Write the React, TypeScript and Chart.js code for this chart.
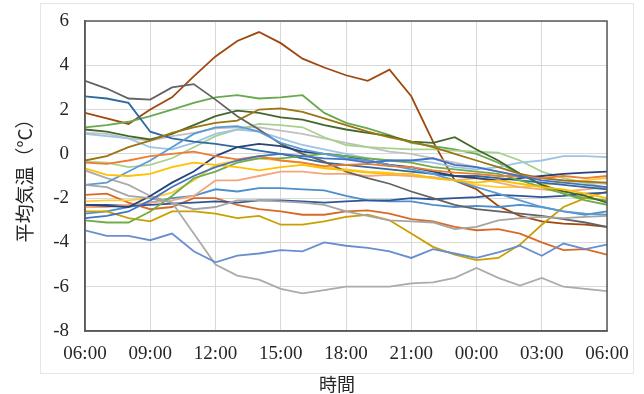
import React, { useEffect, useRef } from 'react';
import { Chart, registerables } from 'chart.js';

Chart.register(...registerables);

// hours elapsed since 06:00
const hours = [0, 1, 2, 3, 4, 5, 6, 7, 8, 9, 10, 11, 12, 13, 14, 15, 16, 17, 18, 19, 20, 21, 22, 23, 24];
const tickLabels = ['06:00', '09:00', '12:00', '15:00', '18:00', '21:00', '00:00', '03:00', '06:00'];

const brown = [1.85, 1.6, 1.35, 2.0, 2.55, 3.5, 4.4, 5.1, 5.5, 5.0, 4.3, 3.9, 3.55, 3.3, 3.8, 2.6, 0.55, -1.2, -1.6, -2.35, -2.8, -3.05, -3.15, -3.2, -3.3];
const darkGray = [3.3, 2.95, 2.5, 2.45, 3.0, 3.15, 2.45, 1.7, 1.1, 0.45, 0.0, -0.35, -0.8, -1.1, -1.35, -1.7, -2.0, -2.3, -2.5, -2.6, -2.7, -2.8, -2.95, -3.1, -3.3];
const steelBlue = [2.6, 2.5, 2.3, 1.0, 0.7, 0.55, 0.45, 0.3, 0.15, 0.0, -0.2, -0.4, -0.5, -0.6, -0.7, -0.8, -0.9, -1.0, -1.0, -1.1, -1.2, -1.3, -1.4, -1.5, -1.6];
const green = [1.2, 1.3, 1.45, 1.7, 2.0, 2.3, 2.55, 2.65, 2.5, 2.55, 2.65, 1.85, 1.4, 1.15, 0.85, 0.5, 0.35, 0.2, 0.0, -0.4, -0.9, -1.4, -1.8, -2.0, -2.1];
const darkGold = [-0.3, -0.1, 0.3, 0.6, 0.95, 1.2, 1.4, 1.5, 2.0, 2.05, 1.9, 1.6, 1.3, 1.0, 0.75, 0.55, 0.3, 0.0, -0.3, -0.6, -0.9, -1.1, -1.2, -1.25, -1.3];
const darkGreen = [1.1, 1.0, 0.8, 0.65, 0.9, 1.3, 1.7, 1.95, 1.85, 1.65, 1.55, 1.3, 1.1, 0.95, 0.8, 0.55, 0.5, 0.75, 0.2, -0.3, -0.9, -1.4, -1.7, -1.9, -2.2];
const grayDrop = [-0.75, -1.1, -1.4, -1.9, -2.2, -3.6, -5.0, -5.5, -5.68, -6.1, -6.3, -6.15, -6.0, -6.0, -6.0, -5.85, -5.8, -5.6, -5.15, -5.6, -5.95, -5.6, -6.0, -6.1, -6.2];
const periwinkle = [-3.45, -3.7, -3.7, -3.9, -3.6, -4.4, -4.9, -4.6, -4.5, -4.35, -4.4, -4.0, -4.15, -4.25, -4.4, -4.7, -4.3, -4.5, -4.7, -4.45, -4.15, -4.6, -4.05, -4.3, -4.1];
const mustard = [-2.6, -2.6, -2.9, -3.05, -2.6, -2.6, -2.7, -2.9, -2.8, -3.2, -3.2, -3.05, -2.85, -2.75, -3.0, -3.6, -4.2, -4.55, -4.8, -4.7, -4.1, -3.2, -2.4, -2.0, -1.7];
const yellowA = [-0.65, -0.95, -1.0, -0.9, -0.6, -0.4, -0.5, -0.6, -0.75, -0.6, -0.5, -0.65, -0.75, -0.85, -0.9, -0.9, -1.1, -1.2, -1.3, -1.2, -1.35, -1.5, -1.6, -1.8, -2.0];
const yellowB = [-2.15, -2.1, -2.1, -2.0, -1.75, -1.2, -0.5, -0.3, -0.2, -0.3, -0.4, -0.6, -0.7, -0.8, -0.85, -1.0, -1.1, -1.2, -1.4, -1.5, -1.5, -1.4, -1.3, -1.2, -1.1];
const orangeMid = [-1.85, -1.8, -2.2, -2.5, -2.4, -2.0, -2.0, -2.3, -2.5, -2.6, -2.75, -2.75, -2.6, -2.55, -2.7, -2.95, -3.05, -3.3, -3.45, -3.4, -3.6, -4.0, -4.35, -4.3, -4.55];
const lightOrange = [-2.4, -2.4, -2.3, -2.2, -2.1, -1.9, -1.2, -1.2, -1.0, -0.8, -0.8, -0.9, -0.9, -1.0, -0.95, -1.0, -1.05, -1.2, -1.1, -1.3, -1.5, -1.6, -1.7, -1.6, -1.5];
const orangeUp = [-0.4, -0.45, -0.3, -0.1, 0.0, 0.1, -0.1, -0.25, -0.1, -0.3, -0.4, -0.55, -0.5, -0.45, -0.55, -0.6, -0.75, -0.85, -0.9, -1.0, -1.0, -1.1, -1.0, -1.1, -1.0];
const darkBlueRise = [-2.3, -2.35, -2.4, -1.9, -1.3, -0.8, -0.1, 0.3, 0.45, 0.35, 0.1, 0.0, -0.1, -0.3, -0.5, -0.6, -0.8, -1.0, -1.1, -1.2, -1.1, -1.0, -0.9, -0.85, -0.8];
const blueRise = [-2.9, -2.8, -2.6, -2.1, -1.5, -1.0, -0.6, -0.3, -0.1, 0.0, -0.1, -0.2, -0.25, -0.4, -0.3, -0.3, -0.2, -0.5, -0.6, -0.8, -1.0, -1.2, -1.3, -1.4, -1.5];
const green2 = [-3.0, -3.1, -3.1, -2.6, -1.9, -1.1, -0.8, -0.4, -0.2, -0.2, -0.1, 0.0, -0.1, -0.2, -0.3, -0.4, -0.6, -0.7, -0.8, -0.9, -1.2, -1.5, -1.8, -2.1, -2.3];
const lightGreen = [-0.35, -0.4, -0.6, -0.5, -0.2, 0.3, 0.8, 1.1, 1.35, 1.3, 1.2, 0.75, 0.4, 0.3, 0.25, 0.2, 0.2, 0.15, 0.1, 0.05, -0.3, -0.8, -1.1, -1.3, -1.55];
const lightGray = [0.95, 0.9, 0.7, 0.6, 0.8, 0.95, 1.15, 1.2, 1.2, 1.05, 0.9, 0.7, 0.5, 0.3, 0.1, 0.0, -0.2, -0.4, -0.6, -0.8, -1.0, -1.1, -1.2, -1.3, -1.35];
const paleBlue = [0.9, 0.8, 0.7, 0.3, 0.2, 0.5, 0.9, 1.1, 1.0, 0.7, 0.4, 0.2, 0.0, -0.2, -0.3, -0.3, -0.4, -0.6, -0.7, -0.6, -0.4, -0.3, -0.1, -0.1, -0.15];
const skyBlueA = [-1.4, -1.3, -0.8, -0.3, 0.3, 0.9, 1.2, 1.25, 1.0, 0.5, 0.2, 0.0, -0.2, -0.3, -0.5, -0.7, -0.9, -1.2, -1.5, -1.8, -2.1, -2.4, -2.6, -2.7, -2.75];
const skyBlueB = [-2.7, -2.6, -2.4, -2.2, -2.0, -1.9, -1.6, -1.7, -1.55, -1.55, -1.6, -1.65, -1.9, -2.1, -2.15, -2.15, -2.3, -2.4, -2.35, -2.4, -2.3, -2.4, -2.6, -2.75, -2.6];
const blueFlat = [-2.3, -2.3, -2.35, -2.3, -2.25, -2.2, -2.15, -2.2, -2.1, -2.1, -2.15, -2.2, -2.15, -2.1, -2.1, -2.0, -2.05, -2.0, -1.95, -1.85, -1.9, -1.95, -1.9, -1.8, -1.75];
const gray2 = [-1.4, -1.5, -1.9, -2.0, -2.2, -2.5, -2.4, -2.1, -2.1, -2.15, -2.2, -2.3, -2.6, -2.8, -3.0, -3.05, -3.1, -3.4, -3.3, -3.0, -2.9, -2.85, -2.9, -2.85, -2.8];

const series = [
  { data: blueRise, color: '#4472C4' },
  { data: orangeUp, color: '#ED7D31' },
  { data: gray2, color: '#A5A5A5' },
  { data: yellowA, color: '#FFC000' },
  { data: skyBlueA, color: '#5B9BD5' },
  { data: green2, color: '#70AD47' },
  { data: darkBlueRise, color: '#264478' },
  { data: darkGray, color: '#636363' },
  { data: darkGold, color: '#9C7410' },
  { data: steelBlue, color: '#2E6A9E' },
  { data: darkGreen, color: '#43682B' },
  { data: periwinkle, color: '#698ED0' },
  { data: lightOrange, color: '#F4A77A' },
  { data: grayDrop, color: '#ABABAB' },
  { data: yellowB, color: '#FFCD33' },
  { data: paleBlue, color: '#9DC3E6' },
  { data: lightGreen, color: '#A9D18E' },
  { data: blueFlat, color: '#2F5597' },
  { data: orangeMid, color: '#D86A28' },
  { data: lightGray, color: '#C0C0C0' },
  { data: mustard, color: '#C9A000' },
  { data: skyBlueB, color: '#4E8FCB' },
  { data: green, color: '#6AA84F' },
  { data: brown, color: '#9E480E' },
];

const serif = '"Liberation Serif", "Times New Roman", serif';
const cjk = '"Noto Sans CJK JP", "Noto Sans CJK SC", sans-serif';

const framePlugin = {
  id: 'frame',
  beforeDraw(chart: any) {
    const ctx = chart.ctx;
    ctx.save();
    ctx.fillStyle = '#ffffff';
    ctx.fillRect(0, 0, chart.width, chart.height);
    ctx.strokeStyle = '#E6E6E6';
    ctx.lineWidth = 1;
    ctx.strokeRect(40.5, 3.5, 593, 370);
    ctx.restore();
  },
  afterDatasetsDraw(chart: any) {
    const { left, top, right, bottom } = chart.chartArea;
    const ctx = chart.ctx;
    ctx.save();
    ctx.strokeStyle = '#595959';
    ctx.lineWidth = 1.5;
    ctx.strokeRect(left, top, right - left, bottom - top);
    ctx.restore();
  },
};

export default function App() {
  const ref = useRef<HTMLCanvasElement | null>(null);

  useEffect(() => {
    if (!ref.current) return;
    const chart = new Chart(ref.current, {
      type: 'line',
      data: {
        datasets: series.map((s, i) => ({
          label: 'S' + (i + 1),
          data: hours.map((h, j) => ({ x: h, y: s.data[j] })),
          borderColor: s.color,
          backgroundColor: s.color,
          borderWidth: 1.8,
          pointRadius: 0,
          tension: 0,
          fill: false,
        })),
      },
      options: {
        animation: false,
        responsive: false,
        devicePixelRatio: 1,
        layout: { padding: { left: 0, right: 37, top: 21, bottom: 0 } },
        plugins: { legend: { display: false }, tooltip: { enabled: false } },
        scales: {
          x: {
            type: 'linear',
            min: 0,
            max: 24,
            ticks: {
              stepSize: 3,
              padding: 12,
              color: '#262626',
              font: { family: serif, size: 19 },
              maxRotation: 0,
              callback: (v: any) => tickLabels[Math.round(Number(v) / 3)] ?? '',
            },
            grid: { color: '#D9D9D9', lineWidth: 1, drawTicks: false },
            border: { display: true, color: '#595959', width: 1.5 },
            title: {
              display: true,
              text: '時間\u3000',
              color: '#262626',
              font: { family: cjk, size: 18, lineHeight: 1 },
              padding: { top: 0, bottom: 1 },
            },
            afterFit: (s: any) => {
              s.height = 63;
            },
          },
          y: {
            min: -8,
            max: 6,
            ticks: {
              stepSize: 2,
              padding: 16,
              color: '#262626',
              font: { family: serif, size: 19 },
            },
            grid: { color: '#D9D9D9', lineWidth: 1, drawTicks: false },
            border: { display: true, color: '#595959', width: 1.5 },
            title: {
              display: true,
              text: '平均気温（°C）',
              color: '#262626',
              font: { family: cjk, size: 19, lineHeight: 1 },
              padding: { top: 15, bottom: 0 },
            },
            afterFit: (s: any) => {
              s.width = 85;
              s.paddingTop = 0;
              s.paddingBottom = 0;
            },
          },
        },
      },
      plugins: [framePlugin],
    });
    return () => chart.destroy();
  }, []);

  return (
    <div style={{ position: 'fixed', left: 0, top: 0, width: 644, height: 394, background: '#fff' }}>
      <canvas ref={ref} width={644} height={394} style={{ display: 'block' }} />
    </div>
  );
}
